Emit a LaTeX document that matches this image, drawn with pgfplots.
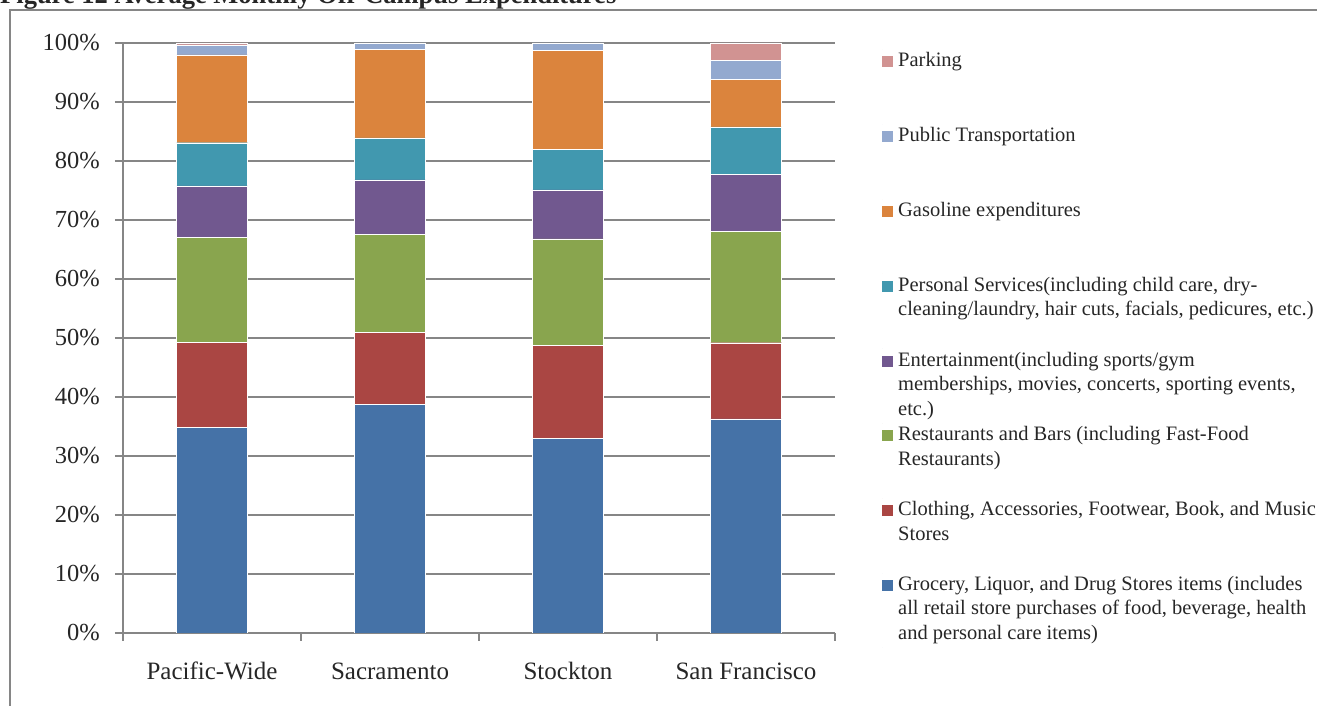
\documentclass[border=0pt]{standalone}
\usepackage{fontspec}
\setmainfont{Liberation Serif}
\usepackage{pgfplots}
\pgfplotsset{compat=1.18}
\definecolor{cGro}{RGB}{69,114,167}
\definecolor{cClo}{RGB}{170,70,67}
\definecolor{cRes}{RGB}{137,165,78}
\definecolor{cEnt}{RGB}{113,88,143}
\definecolor{cPer}{RGB}{65,152,175}
\definecolor{cGas}{RGB}{219,132,61}
\definecolor{cPub}{RGB}{147,169,207}
\definecolor{cPar}{RGB}{209,147,146}
\definecolor{gridGray}{RGB}{134,134,134}
\definecolor{txt}{RGB}{38,38,38}
\pgfplotsset{my square legend/.style={legend image code/.code={%
  \path (0bp,-57.25bp) rectangle (0bp,17.15bp);
  \path[##1,draw=none] (0bp,-0.5bp) rectangle (11bp,10.5bp);}}}
\newcommand\LE[1]{\smash{\parbox[t]{425bp}{\raggedright\strut #1}}}
\begin{document}
\begin{tikzpicture}
\begin{axis}[
  at={(123bp,73bp)}, anchor=south west,
  scale only axis, width=712bp, height=590bp,
  ybar stacked, bar width=71bp,
  xmin=-0.5, xmax=3.5, ymin=0, ymax=100,
  axis x line*=bottom, axis y line*=left,
  axis line style={-, draw=gridGray, line width=1.8bp},
  ymajorgrids, grid style={draw=gridGray, line width=1.8bp},
  xtick={0,1,2,3}, xticklabels={Pacific-Wide,Sacramento,Stockton,San Francisco},
  ytick={0,10,20,30,40,50,60,70,80,90,100},
  yticklabels={0\%,10\%,20\%,30\%,40\%,50\%,60\%,70\%,80\%,90\%,100\%},
  major tick length=0pt,
  minor xtick={-0.5,0.5,1.5,2.5,3.5},
  minor ytick={0,10,20,30,40,50,60,70,80,90,100},
  minor tick length=8bp, tick align=outside,
  minor tick style={draw=gridGray, line width=1.8bp},
  xticklabel style={font=\fontsize{25bp}{30bp}\selectfont, text=txt, anchor=base, inner sep=0pt, yshift=-46bp},
  yticklabel style={font=\fontsize{24.5bp}{30bp}\selectfont, text=txt, anchor=east, inner sep=0pt, xshift=-23bp},
  every axis plot/.append style={draw=white, line width=0.4bp},
  every axis plot post/.append style={my square legend},
  reverse legend,
  legend cell align=left,
  legend style={at={(rel axis cs:1.066,0.989)}, anchor=north west, draw=none, fill=none,
    inner sep=0pt, outer sep=0pt, row sep=0pt, column sep=5bp,
    font=\fontsize{20.5bp}{24.5bp}\selectfont, text=txt,
    nodes={inner sep=0pt, outer sep=0pt, anchor=base west}},
]
\addplot[fill=cGro] coordinates {(0,34.9) (1,38.8) (2,33.0) (3,36.3)};
\addlegendentry{\LE{Grocery, Liquor, and Drug Stores items (includes\newline all retail store purchases of food, beverage, health\newline and personal care items)}}
\addplot[fill=cClo] coordinates {(0,14.4) (1,12.2) (2,15.8) (3,12.9)};
\addlegendentry{\LE{Clothing, Accessories, Footwear, Book, and Music\newline Stores}}
\addplot[fill=cRes] coordinates {(0,17.8) (1,16.6) (2,18.0) (3,18.9)};
\addlegendentry{\LE{Restaurants and Bars (including Fast-Food\newline Restaurants)}}
\addplot[fill=cEnt] coordinates {(0,8.7) (1,9.2) (2,8.3) (3,9.6)};
\addlegendentry{\LE{Entertainment(including sports/gym\newline memberships, movies, concerts, sporting events,\newline etc.)}}
\addplot[fill=cPer] coordinates {(0,7.3) (1,7.1) (2,6.9) (3,8.1)};
\addlegendentry{\LE{Personal Services(including child care, dry-\newline cleaning/laundry, hair cuts, facials, pedicures, etc.)}}
\addplot[fill=cGas] coordinates {(0,14.9) (1,15.0) (2,16.7) (3,8.0)};
\addlegendentry{\LE{Gasoline expenditures}}
\addplot[fill=cPub] coordinates {(0,1.7) (1,1.1) (2,1.3) (3,3.3)};
\addlegendentry{\LE{Public Transportation}}
\addplot[fill=cPar] coordinates {(0,0.3) (1,0.0) (2,0.0) (3,2.9)};
\addlegendentry{\LE{Parking}}
\end{axis}
\draw[draw=gridGray, line width=2bp] (10bp,-5bp) -- (10bp,696bp) -- (1325bp,696bp);
\node[anchor=base west, inner sep=0pt, text=txt, font=\bfseries\fontsize{26.5bp}{30bp}\selectfont] at (0bp,702bp) {Figure 12 Average Monthly Off-Campus Expenditures};
\pgfresetboundingbox
\useasboundingbox (0bp,0bp) rectangle (1317bp,706bp);
\end{tikzpicture}
\end{document}
